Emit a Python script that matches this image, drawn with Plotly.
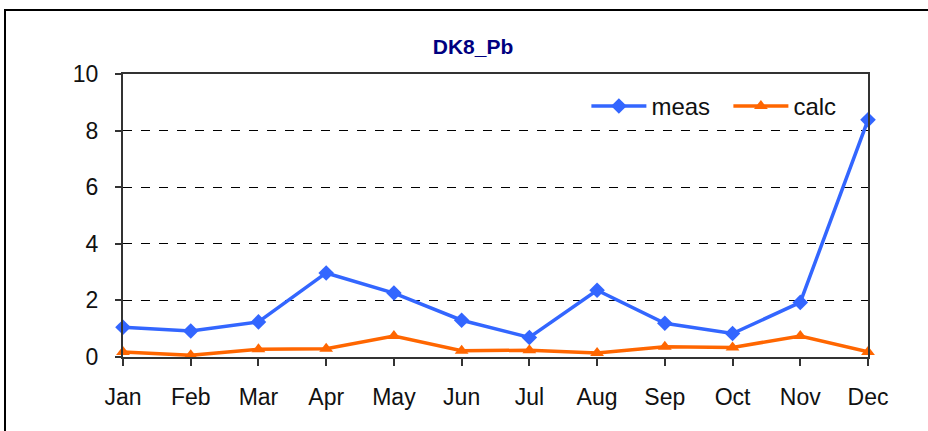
import plotly.graph_objects as go

months = ["Jan", "Feb", "Mar", "Apr", "May", "Jun", "Jul", "Aug", "Sep", "Oct", "Nov", "Dec"]
meas = [1.05, 0.92, 1.24, 2.97, 2.26, 1.30, 0.69, 2.36, 1.19, 0.83, 1.93, 8.38]
calc = [0.18, 0.06, 0.27, 0.29, 0.74, 0.22, 0.24, 0.14, 0.36, 0.34, 0.74, 0.18]
y_ticks = [0, 2, 4, 6, 8, 10]

FONT = "Liberation Sans, Arial, sans-serif"

fig = go.Figure()
fig.add_trace(go.Scatter(
    x=months, y=meas, name="meas", mode="lines+markers", cliponaxis=False,
    line=dict(color="#3366FF", width=3.5),
    marker=dict(symbol="diamond", size=12, color="#3366FF"),
))
fig.add_trace(go.Scatter(
    x=months, y=calc, name="calc", mode="lines+markers", cliponaxis=False,
    line=dict(color="#FF6600", width=3.5),
    marker=dict(symbol="triangle-up", size=12, color="#FF6600"),
))


def px_x(p):
    return (p - 123) / 745


def px_y(p):
    return (357 - p) / 283


fig.update_layout(
    width=928, height=431,
    margin=dict(l=123, r=60, t=74, b=74),
    paper_bgcolor="white", plot_bgcolor="white",
    font=dict(family=FONT, size=23, color="#111111"),
    title=dict(text="<b>DK8_Pb</b>", x=473 / 928, xanchor="center",
               y=1 - 47 / 431, yanchor="middle",
               font=dict(family=FONT, size=21, color="#000080")),
    showlegend=True,
    legend=dict(orientation="h", x=0.622, y=0.965, xanchor="left", yanchor="top",
                bgcolor="rgba(0,0,0,0)", font=dict(family=FONT, size=24, color="#111111"),
                itemwidth=55, entrywidth=72, entrywidthmode="pixels"),
    xaxis=dict(
        type="category", range=[0, 11], showgrid=False,
        showline=True, linecolor="#333333", linewidth=2, mirror=True,
        ticks="outside", ticklen=7, tickcolor="#333333", tickwidth=2,
        ticklabelstandoff=11, zeroline=False,
    ),
    yaxis=dict(
        range=[0, 10], tickvals=y_ticks, showgrid=True,
        gridcolor="black", griddash="dash", gridwidth=1,
        showline=True, linecolor="#333333", linewidth=2, mirror=True,
        ticks="outside", ticklen=6, tickcolor="#333333", tickwidth=2,
        ticklabelstandoff=12, zeroline=False,
    ),
    shapes=[
        dict(type="rect", xref="paper", yref="paper",
             x0=px_x(5), x1=px_x(940), y0=px_y(445), y1=px_y(10),
             line=dict(color="black", width=2), layer="below"),
        dict(type="rect", xref="paper", yref="paper",
             x0=px_x(580), x1=px_x(838), y0=px_y(133), y1=px_y(88),
             line=dict(width=0), fillcolor="white", layer="between"),
    ],
)

fig.write_html("out.html", config={"displayModeBar": False},
               post_script="document.body.style.margin='0px';")
